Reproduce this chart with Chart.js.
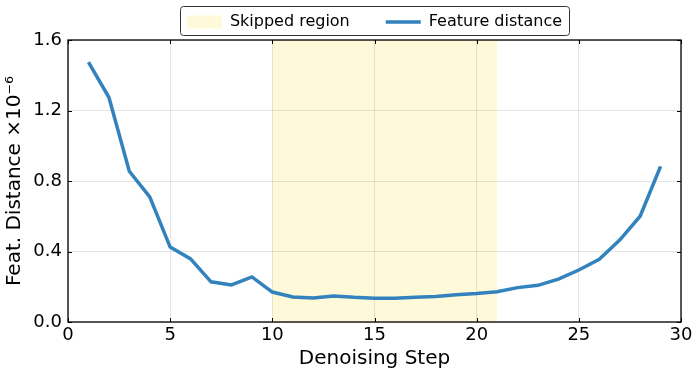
<!DOCTYPE html>
<html>
<head>
<meta charset="utf-8">
<script src="https://cdn.jsdelivr.net/npm/chart.js@4"></script>
<style>
  html, body { margin: 0; padding: 0; background: #fff; }
  #wrap { width: 698px; height: 378px; }
</style>
</head>
<body>
<div id="wrap"><canvas id="distChart"></canvas></div>
<script>
const steps = [1, 2, 3, 4, 5, 6, 7, 8, 9, 10, 11, 12, 13, 14, 15, 16, 17, 18, 19, 20, 21, 22, 23, 24, 25, 26, 27, 28, 29];
const featDistance = [1.475, 1.275, 0.855, 0.71, 0.425, 0.358, 0.228, 0.21, 0.256, 0.17, 0.142, 0.136, 0.148, 0.14, 0.135, 0.135, 0.14, 0.145, 0.155, 0.162, 0.172, 0.195, 0.208, 0.243, 0.295, 0.356, 0.465, 0.60, 0.883];
const skippedRegion = [10, 21];
const xTicks = [0, 5, 10, 15, 20, 25, 30];
const yTicks = [0, 0.4, 0.8, 1.2, 1.6];

const lineBlue = '#3182bd';
const shadeColor = 'rgba(253, 245, 190, 0.6)';
const fontFamily = "'DejaVu Sans', sans-serif";

// shaded span under the grid
const spanPlugin = {
  id: 'skipSpan',
  beforeDraw(chart) {
    const { ctx, chartArea, scales } = chart;
    const x0 = scales.x.getPixelForValue(skippedRegion[0]);
    const x1 = scales.x.getPixelForValue(skippedRegion[1]);
    ctx.save();
    ctx.fillStyle = shadeColor;
    ctx.fillRect(x0, chartArea.top, x1 - x0, chartArea.bottom - chartArea.top);
    ctx.restore();
  }
};

// frame, inward ticks on all four sides, legend border
const framePlugin = {
  id: 'frame',
  afterDraw(chart) {
    const { ctx, chartArea: a, scales } = chart;
    ctx.save();
    ctx.strokeStyle = '#000';
    ctx.lineWidth = 1;
    xTicks.forEach(v => {
      const px = Math.round(scales.x.getPixelForValue(v)) + 0.5;
      ctx.beginPath();
      ctx.moveTo(px, a.bottom); ctx.lineTo(px, a.bottom - 4);
      ctx.moveTo(px, a.top); ctx.lineTo(px, a.top + 4);
      ctx.stroke();
    });
    yTicks.forEach(v => {
      const py = Math.round(scales.y.getPixelForValue(v)) + 0.5;
      ctx.beginPath();
      ctx.moveTo(a.left, py); ctx.lineTo(a.left + 4, py);
      ctx.moveTo(a.right, py); ctx.lineTo(a.right - 4, py);
      ctx.stroke();
    });
    ctx.lineWidth = 1.3;
    ctx.strokeRect(a.left, a.top, a.right - a.left, a.bottom - a.top);

    const boxes = chart.legend.legendHitBoxes;
    if (boxes && boxes.length) {
      const minX = Math.min(...boxes.map(b => b.left)) - 7;
      const maxX = Math.max(...boxes.map(b => b.left + b.width)) + 7;
      const midY = boxes[0].top + boxes[0].height / 2;
      ctx.strokeStyle = '#333';
      ctx.lineWidth = 1;
      ctx.beginPath();
      ctx.roundRect(Math.round(minX) + 0.5, Math.round(midY - 16) + 0.5, Math.round(maxX - minX), 29, 3);
      ctx.stroke();
    }
    ctx.restore();
  }
};

const ctx = document.getElementById('distChart').getContext('2d');
new Chart(ctx, {
  type: 'line',
  data: {
    datasets: [{
      label: 'Feature distance',
      data: steps.map((s, i) => ({ x: s, y: featDistance[i] })),
      borderColor: lineBlue,
      borderWidth: 3.5,
      pointRadius: 0,
      tension: 0,
      fill: false
    }]
  },
  options: {
    responsive: true,
    maintainAspectRatio: false,
    animation: false,
    devicePixelRatio: 1,
    layout: { padding: { left: 0, right: 17, top: -22, bottom: 0 } },
    plugins: {
      tooltip: { enabled: false },
      legend: {
        position: 'top',
        fullSize: false,
        labels: {
          font: { family: fontFamily, size: 16 },
          color: '#000',
          usePointStyle: true,
          pointStyleWidth: 35,
          boxHeight: 13,
          padding: 36,
          generateLabels: () => [
            { text: 'Skipped region', fillStyle: shadeColor, strokeStyle: shadeColor, lineWidth: 0, pointStyle: 'rect', hidden: false, datasetIndex: 0 },
            { text: 'Feature distance', fillStyle: lineBlue, strokeStyle: lineBlue, lineWidth: 3.5, pointStyle: 'line', hidden: false, datasetIndex: 0 }
          ]
        },
        onClick: () => {}
      }
    },
    scales: {
      x: {
        type: 'linear',
        min: 0,
        max: 30,
        afterFit: scale => { scale.height = 56; },
        afterBuildTicks: scale => { scale.ticks = xTicks.map(v => ({ value: v })); },
        grid: { color: 'rgba(0,0,0,0.1)', lineWidth: 1, drawTicks: false },
        border: { display: false },
        ticks: { color: '#000', padding: 3, font: { family: fontFamily, size: 18 }, maxRotation: 0 },
        title: { display: true, text: 'Denoising Step', color: '#000', font: { family: fontFamily, size: 20 }, padding: { top: 0, bottom: 7 } }
      },
      y: {
        min: 0,
        max: 1.6,
        afterFit: scale => { scale.width = 68; },
        afterBuildTicks: scale => { scale.ticks = yTicks.map(v => ({ value: v })); },
        grid: { color: 'rgba(0,0,0,0.1)', lineWidth: 1, drawTicks: false },
        border: { display: false },
        ticks: { color: '#000', padding: 6, font: { family: fontFamily, size: 18 }, callback: v => v.toFixed(1) },
        title: { display: true, text: 'Feat. Distance ×10⁻⁶', color: '#000', font: { family: fontFamily, size: 20 }, padding: { top: 3, bottom: 0 } }
      }
    }
  },
  plugins: [spanPlugin, framePlugin]
});
</script>
</body>
</html>
